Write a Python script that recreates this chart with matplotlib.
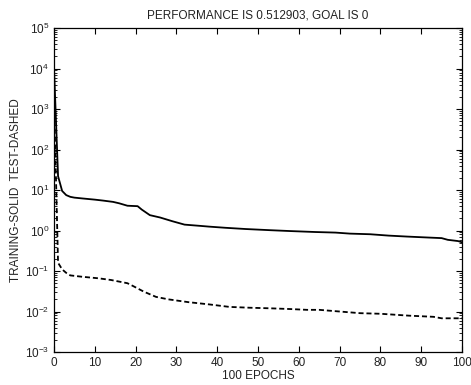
import matplotlib
matplotlib.use('Agg')
import matplotlib.pyplot as plt
from matplotlib.ticker import FixedLocator, LogFormatterSciNotation, NullFormatter

plt.rcParams['font.family'] = ['Liberation Sans', 'DejaVu Sans']
plt.rcParams['mathtext.default'] = 'regular'

# training error (solid)
train_epoch = [0, 1, 2, 3, 4, 5, 7, 10, 12, 14.5, 16, 18, 20.5, 21.5, 23.5, 26, 29, 32, 36,
               38, 42, 47, 53, 58, 64, 69, 72.5, 77.5, 82, 86.5, 92, 95, 96.5, 99, 100]
train_perf = [1.1e4, 22, 9.5, 7.5, 6.8, 6.5, 6.2, 5.8, 5.5, 5.1, 4.7, 4.1, 4.0, 3.3, 2.4, 2.1,
              1.7, 1.4, 1.3, 1.25, 1.17, 1.09, 1.02, 0.97, 0.92, 0.89, 0.84, 0.81, 0.75, 0.71,
              0.67, 0.65, 0.59, 0.55, 0.513]

# test error (dashed)
test_epoch = [0, 1, 2, 3, 4, 7, 11, 14, 18, 19.5, 22, 25, 28, 33, 38, 43, 48, 53, 58, 62,
              65, 70, 75, 80, 87, 93, 95, 100]
test_perf = [2e3, 0.16, 0.11, 0.09, 0.078, 0.072, 0.066, 0.060, 0.050, 0.042, 0.031, 0.023,
             0.020, 0.017, 0.015, 0.013, 0.0124, 0.012, 0.0115, 0.011, 0.011, 0.010, 0.0091,
             0.0088, 0.0079, 0.0074, 0.0068, 0.0068]

decades = [10.0 ** k for k in range(-3, 6)]
minors = [m * 10.0 ** k for k in range(-3, 5) for m in range(2, 10)]

fig = plt.figure(figsize=(4.71, 3.85), dpi=100)
ax = fig.add_axes([0.1146, 0.0857, 0.8664, 0.8413])

ax.semilogy(train_epoch, train_perf, color='black', linewidth=1.3)
ax.semilogy(test_epoch, test_perf, color='black', linewidth=1.3, linestyle=(0, (2.8, 1.6)))

ax.set_xlim(0, 100)
ax.set_ylim(1e-3, 1e5)
ax.set_xticks(range(0, 101, 10))
ax.yaxis.set_major_locator(FixedLocator(decades))
ax.yaxis.set_major_formatter(LogFormatterSciNotation())
ax.yaxis.set_minor_locator(FixedLocator(minors))
ax.yaxis.set_minor_formatter(NullFormatter())

ax.tick_params(which='both', direction='in', top=True, right=True, labelsize=8.5,
               colors='black', labelcolor='#222222')
ax.tick_params(which='major', length=4, width=0.8)
ax.tick_params(which='minor', length=2, width=0.6)
for s in ax.spines.values():
    s.set_linewidth(0.9)

ax.set_title('PERFORMANCE IS 0.512903, GOAL IS 0', fontsize=8.5, color='#222222', pad=7)
ax.set_xlabel('100 EPOCHS', fontsize=8.5, color='#222222', labelpad=1)
ax.set_ylabel('TRAINING-SOLID  TEST-DASHED', fontsize=8.5, color='#222222', labelpad=2)

fig.savefig('out.png', dpi=100)
